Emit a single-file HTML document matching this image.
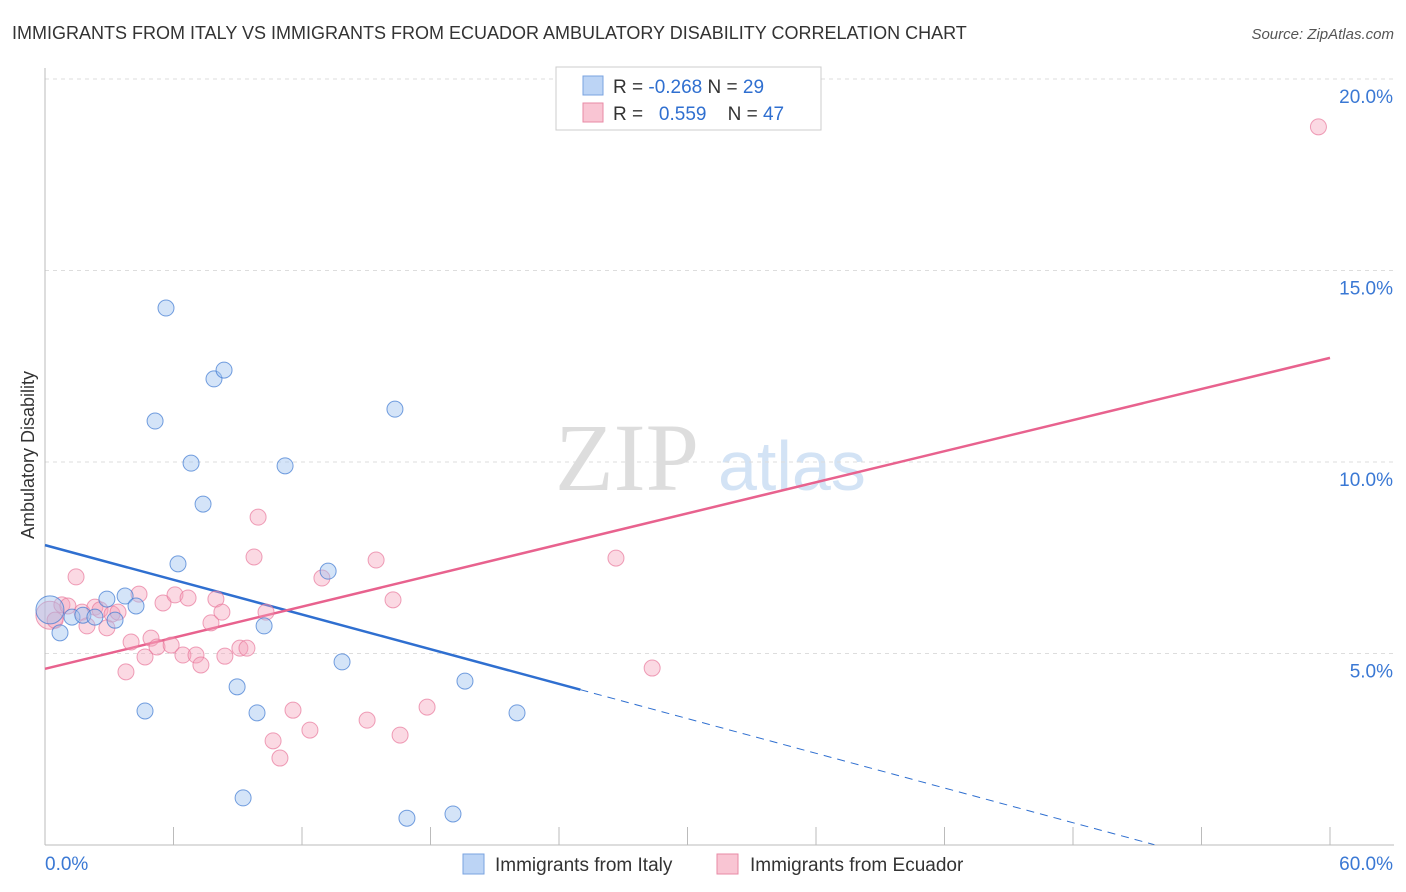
<!DOCTYPE html>
<html><head><meta charset="utf-8"><style>
body{margin:0;background:#fff;font-family:"Liberation Sans",sans-serif;}
#wrap{position:relative;width:1406px;height:892px;overflow:hidden;}
</style></head><body>
<div id="wrap">
<svg id="chart" width="1406" height="892">
<text x="12" y="39" font-size="18" fill="#333">IMMIGRANTS FROM ITALY VS IMMIGRANTS FROM ECUADOR AMBULATORY DISABILITY CORRELATION CHART</text>
<text x="1394" y="39" font-size="15" fill="#555" font-style="italic" text-anchor="end">Source: ZipAtlas.com</text>
<text x="34" y="455" font-size="18" fill="#333" text-anchor="middle" transform="rotate(-90 34 455)">Ambulatory Disability</text>
<text x="555" y="490" font-size="96" fill="#ddd" font-family="Liberation Serif">ZIP</text>
<text x="718" y="490" font-size="70" fill="#d3e3f5">atlas</text>
<g id="grid"></g><g id="axes"></g><g id="lines"></g><g id="pts"></g>
<g>
<rect x="556" y="67" width="265" height="63" fill="#fff" stroke="#ccc"/>
<rect x="583" y="76" width="20" height="19" fill="#bcd4f5" stroke="#7aa3e0"/>
<rect x="583" y="103" width="20" height="19" fill="#f9c5d3" stroke="#e88aa6"/>
<text x="613" y="93" font-size="19" fill="#333">R = <tspan fill="#2f6fd0">-0.268</tspan>   N = <tspan fill="#2f6fd0">29</tspan></text>
<text x="613" y="120" font-size="19" fill="#333" xml:space="preserve">R =  <tspan fill="#2f6fd0"> 0.559</tspan>    N = <tspan fill="#2f6fd0">47</tspan></text>
</g>
<g>
<rect x="463" y="854" width="21" height="20" fill="#bcd4f5" stroke="#7aa3e0"/>
<text x="495" y="871" font-size="19" fill="#333">Immigrants from Italy</text>
<rect x="717" y="854" width="21" height="20" fill="#f9c5d3" stroke="#e88aa6"/>
<text x="750" y="871" font-size="19" fill="#333">Immigrants from Ecuador</text>
</g>
</svg></div>
<script>
const italyX=[0.23,0.7,1.26,1.77,2.33,2.89,3.27,3.74,4.25,4.67,5.14,5.65,6.21,6.82,7.38,7.89,8.36,8.97,9.25,9.9,10.23,11.21,13.22,13.87,16.34,16.9,19.05,19.61,22.04];
const italyY=[6.14,5.54,5.95,6.0,5.95,6.42,5.87,6.5,6.24,3.5,11.07,14.02,7.34,9.97,8.9,12.17,12.4,4.13,1.23,3.45,5.72,9.9,7.15,4.78,11.38,0.7,0.81,4.28,3.45];
const ecuadorX=[0.23,0.47,0.79,1.07,1.45,1.73,1.96,2.33,2.57,2.89,3.13,3.41,3.78,4.02,4.39,4.67,4.95,5.23,5.51,5.89,6.07,6.44,6.68,7.05,7.28,7.75,7.98,8.26,8.4,9.1,9.43,9.76,9.95,10.32,10.65,10.97,11.58,12.37,12.93,15.04,15.46,16.25,16.58,17.84,26.66,28.35,59.46];
const ecuadorY=[6.0,5.87,6.27,6.24,7.0,6.08,5.72,6.21,6.14,5.67,6.03,6.08,4.52,5.3,6.55,4.91,5.4,5.17,6.32,5.22,6.53,4.96,6.45,4.96,4.7,5.8,6.42,6.08,4.93,5.14,5.14,7.52,8.56,6.08,2.72,2.27,3.52,3.0,6.97,3.26,7.44,6.4,2.87,3.6,7.49,4.62,18.75];
const yTicks=[5,10,15,20];
const yTickLabels=["5.0%","10.0%","15.0%","20.0%"];
const xTicks=[0,6,12,18,24,30,36,42,48,54,60];
const italyFit=[7.83,-0.151];   // intercept, slope
const ecuadorFit=[4.6,0.1353];
const sx=v=>45+v/60*1285, sy=v=>845-v/5*191.5;
const NS="http://www.w3.org/2000/svg";
function mk(p,t,a){const e=document.createElementNS(NS,t);for(const k in a)e.setAttribute(k,a[k]);document.getElementById(p).appendChild(e);return e;}
yTicks.forEach((v,i)=>{
 const g=mk('grid','line',{x1:45,x2:1394,y1:sy(v),y2:sy(v),stroke:'#ddd','stroke-dasharray':'4,4'});
 
 
 const t=mk('axes','text',{x:1393,y:sy(v)+24,'font-size':19,fill:'#3a78d4','text-anchor':'end'});t.textContent=yTickLabels[i];
 
 
});
const ax=mk('axes','line',{x1:45,x2:45,y1:68,y2:845,stroke:'#bbb'});


const bx=mk('axes','line',{x1:45,x2:1394,y1:845,y2:845,stroke:'#bbb'});


xTicks.forEach(v=>{const t=mk('axes','line',{x1:sx(v),x2:sx(v),y1:827,y2:845,stroke:'#bbb'});
 
 });
const l0=mk('axes','text',{x:45,y:870,'font-size':19,fill:'#3a78d4'});l0.textContent='0.0%';


const l1=mk('axes','text',{x:1393,y:870,'font-size':19,fill:'#3a78d4','text-anchor':'end'});l1.textContent='60.0%';


const f=(p,x)=>p[0]+p[1]*x;
const bl=mk('lines','line',{x1:sx(0),y1:sy(f(italyFit,0)),x2:sx(25),y2:sy(f(italyFit,25)),stroke:'#2f6fd0','stroke-width':2.5});


const bd=mk('lines','line',{x1:sx(25),y1:sy(f(italyFit,25)),x2:sx(51.8),y2:sy(f(italyFit,51.8)),stroke:'#2f6fd0','stroke-width':1,'stroke-dasharray':'8,6'});


const pl=mk('lines','line',{x1:sx(0),y1:sy(f(ecuadorFit,0)),x2:sx(60),y2:sy(f(ecuadorFit,60)),stroke:'#e8628e','stroke-width':2.5});


ecuadorX.forEach((x,i)=>{const c=mk('pts','circle',{cx:sx(x),cy:sy(ecuadorY[i]),r:i==0?14:8,fill:'rgba(245,160,185,0.4)',stroke:'rgba(232,120,155,0.7)','stroke-width':1});
 
 });
italyX.forEach((x,i)=>{const c=mk('pts','circle',{cx:sx(x),cy:sy(italyY[i]),r:i==0?14:8,fill:'rgba(160,195,240,0.45)',stroke:'rgba(60,120,210,0.7)','stroke-width':1});
 
 });
</script>
</body></html>
